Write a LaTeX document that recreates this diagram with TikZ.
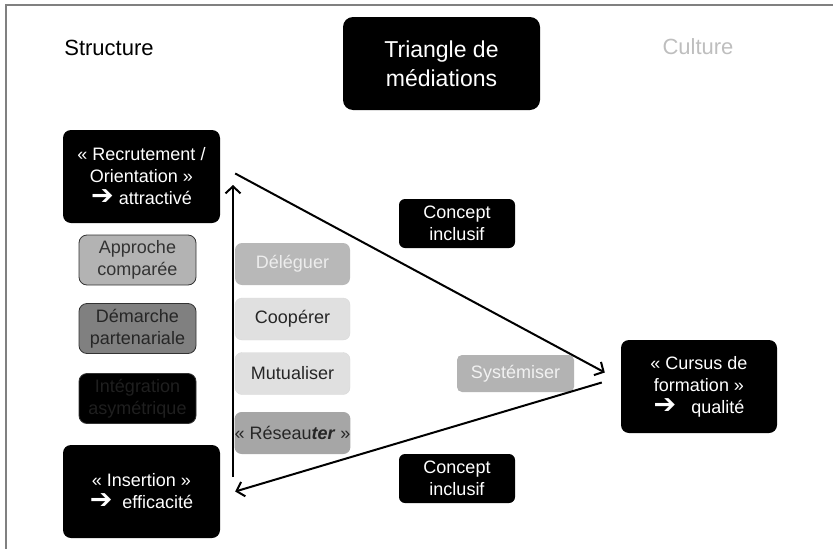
\documentclass[tikz,border=0pt]{standalone}
\usepackage{fontspec}
\setmainfont{Liberation Sans}
\newfontfamily\flechefont{DejaVu Sans}
\usepackage{tikz}
\usetikzlibrary{arrows.meta, calc, positioning}
\definecolor{cadre}{RGB}{128,128,128}
\definecolor{grisclair}{RGB}{224,224,224}
\definecolor{grismoyen}{RGB}{179,179,179}
\definecolor{grisfonce}{RGB}{128,128,128}
\definecolor{grisverbe}{RGB}{184,184,184}
\definecolor{grisreseau}{RGB}{166,166,166}
\definecolor{texteculture}{RGB}{190,190,190}
\newcommand{\fleche}{{\flechefont\fontsize{27}{22}\selectfont ➔}}

\begin{document}
\begin{tikzpicture}[x=1pt,y=-1pt,
    boite/.style={rectangle,rounded corners=8pt,align=center,inner sep=0pt,font=\fontsize{18}{22}\selectfont},
    noire/.style={boite,fill=black,text=white,minimum width=157pt,minimum height=93pt},
    petite/.style={boite,draw=black!80,line width=0.8pt,minimum width=117pt,minimum height=50pt},
    verbe/.style={boite,rounded corners=7pt,minimum width=115pt,minimum height=42pt},
    concept/.style={boite,rounded corners=6pt,fill=black,text=white,minimum width=116pt,minimum height=49pt},
    trait/.style={line width=2pt,-{Straight Barb[length=7pt,width=15pt,line width=2pt]}},
    titre/.style={font=\fontsize{22}{27}\selectfont}]
    \useasboundingbox (0,0) rectangle (833,549);
    \draw[cadre,line width=2pt] (6,549) -- (6,5) -- (833,5);

    % Titres
    \node[titre] (structure) at (109,48) {Structure};
    \node[titre,text=texteculture] (culture) at (698,47) {Culture};
    \node[boite,rounded corners=10pt,fill=black,text=white,minimum width=197pt,minimum height=93pt,
          font=\fontsize{23}{29}\selectfont] (mediations) at (441.5,63.5) {Triangle de\\médiations};

    % Les trois poles
    \node[noire] (recrut) at (141.5,176.5) {« Recrutement /\\Orientation »\\\fleche\ attractivé};
    \node[noire] (insert) at (141.5,491.5) {« Insertion »\\\fleche\ \ efficacité};
    \node[noire,minimum width=156pt] (cursus) at (699,386.5) {« Cursus de\\formation »\\\fleche\ \ \ qualité};

    % Colonne structure
    \node[petite,fill=grismoyen,text=black!80] (approche) at (137.5,260) {Approche\\comparée};
    \node[petite,fill=grisfonce,text=black!85] (demarche) at (137.5,328.5) {Démarche\\partenariale};
    \node[petite,fill=black,text=black!88] (integration) at (137.5,398.5) {Intégration\\asymétrique};

    % Colonne des verbes
    \node[verbe,fill=grisverbe,text=black!7] (deleguer) at (292.5,264) {Déléguer};
    \node[verbe,fill=grisclair,draw=black!15,text=black!85] (cooperer) at (292.5,319) {Coopérer};
    \node[verbe,fill=grisclair,draw=black!15,text=black!85] (mutualiser) at (292.5,373.5) {Mutualiser};
    \node[verbe,fill=grisreseau,text=black!85] (reseauter) at (292.5,433) {« Réseau\textbf{\textit{ter}} »};

    % Concepts
    \node[concept] (concepthaut) at (457,223.5) {Concept\\inclusif};
    \node[concept] (conceptbas) at (457,478.5) {Concept\\inclusif};
    \node[boite,rounded corners=5pt,fill=grismoyen,text=black!5,minimum width=117pt,minimum height=37pt] (systemiser) at (515.5,373.5) {Systémiser};

    % Fleches
    \coordinate (axebas) at (233,477);
    \coordinate (axehaut) at (233,185);
    \draw[trait] (axebas) -- (axehaut);
    \draw[trait] ($(recrut.east)+(15,-3)$) -- ($(cursus.west)+(-16,-14)$);
    \draw[trait] ($(cursus.west)+(-19,-4)$) -- ($(insert.east)+(15,0)$);
\end{tikzpicture}
\end{document}
